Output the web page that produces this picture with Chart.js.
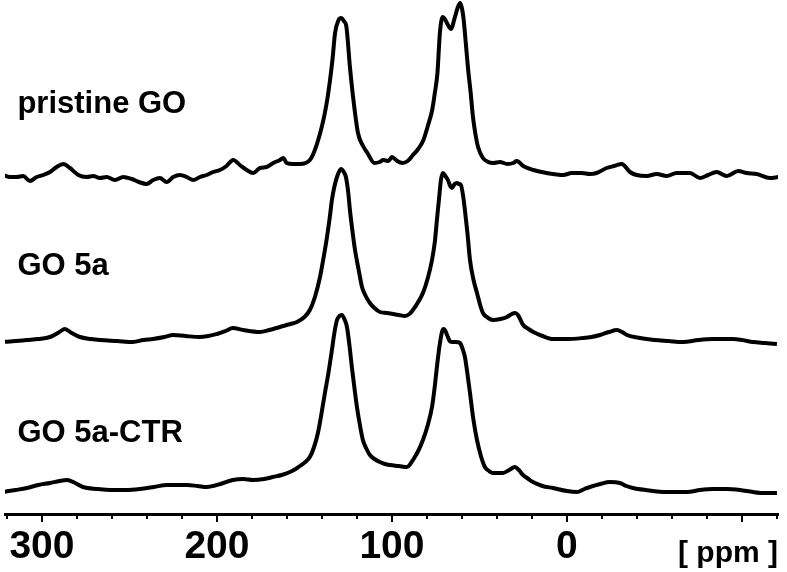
<!DOCTYPE html>
<html>
<head>
<meta charset="utf-8">
<script src="https://cdn.jsdelivr.net/npm/chart.js@4.4.1/dist/chart.umd.min.js"></script>
<style>
  html, body { margin: 0; padding: 0; background: #fff; }
  canvas { display: block; }
</style>
</head>
<body>
<canvas id="nmr" width="787" height="572"></canvas>
<script>
'use strict';

// chemical shift (ppm) and intensity (arb. units, above each trace's own baseline)
var pristinePpm = [322.1, 318.3, 314.5, 310.7, 306.9, 303, 299.2, 295.4, 291.6, 287.8, 284, 279.2, 274.5, 270.7, 266.9, 263, 258.3, 253.5, 248.7, 244.6, 240.2, 236.4, 232.6, 228.7, 225, 221.1, 217.3, 213.5, 209.7, 205.9, 202.1, 198.3, 194.5, 190.7, 186.9, 183, 179.2, 175.4, 171.6, 167.8, 164, 162.1, 160.2, 156.4, 152.6, 146.9, 141, 137, 134, 132.5, 130.5, 129, 127.5, 126, 124, 122, 119.4, 116.5, 114, 110, 107, 105, 102, 100, 97, 94, 91, 88, 85, 82, 79.5, 77, 75.5, 74, 72.6, 71, 69.7, 68.6, 66.3, 64, 62.5, 61, 59.8, 59, 57.8, 56.6, 55, 53.7, 52.2, 50.8, 48, 45, 42.1, 38.3, 34, 30.7, 28.7, 25, 19.2, 11.6, 2.1, -2.7, -8.4, -13.1, -17, -22.7, -27, -31.3, -36, -39.8, -45.5, -51.3, -57, -62.7, -70.3, -76, -80.7, -85.5, -91.3, -97.9, -102.7, -108.4, -116, -120.7];
var pristineInt = [3, 1, 1, 2, -3, 1, 3, 6, 11, 14, 10, 3, 1, 2, 0, 1, -2, 1, -1, -4, -6, -2, 0, -4, 1, 3, 1, -2, 1, 3, 6, 8, 12, 18, 13, 8, 5, 10, 11, 15, 18, 20, 15, 14, 14, 18, 45, 78, 118, 145, 158, 160, 157, 151, 111, 78, 45, 32, 25, 15, 16, 18, 17, 21, 17, 15, 17, 23, 29, 38, 52, 68, 85, 105, 145, 161, 159, 155, 149, 161, 170, 175, 168, 158, 135, 111, 85, 61, 43, 31, 20, 16, 15, 16, 14, 15, 17, 12, 8, 5, 3, 5, 5, 4, 5, 10, 12, 14, 6, 3, 2, 4, 2, 5, 5, 0, 3, 6, 2, 7, 5, 4, 0, 1];

var go5aPpm = [322.3, 315, 308.6, 302, 295.4, 290, 286.9, 283, 278.3, 272, 266.9, 257, 248, 242, 236.6, 230, 225, 218, 209.7, 200, 195, 190.9, 185, 175.4, 170, 164, 158, 154.3, 150, 146.9, 144, 141.1, 139, 137.1, 135.5, 134.3, 132.8, 131.4, 129.1, 127.5, 126.3, 125, 124, 122.5, 121.1, 119, 117.1, 115, 112.6, 110, 106.9, 103, 99.4, 96, 92.6, 90, 88, 85, 82.3, 79.5, 77.1, 75.5, 74.3, 73, 72, 70.9, 69.5, 68, 66.7, 65.7, 64.2, 62.9, 61.7, 60.6, 59.4, 58.3, 56.8, 55.4, 53.5, 51.4, 49.6, 48, 45, 42.3, 38, 34.3, 31.5, 29.7, 28, 26.5, 25, 22, 19.2, 14, 8, 0, -9.1, -14, -18.9, -24, -28.6, -31.5, -34.3, -41.7, -50, -58, -66.3, -75, -83.4, -94.9, -100, -106.3, -113, -120];
var go5aInt = [0, 1, 2, 3, 5, 10, 13, 9, 5, 3, 2, 1, 0, 2, 3, 5, 7, 6, 5, 8, 11, 14, 12, 10, 12, 15, 18, 20, 25, 32, 45, 65, 85, 105, 125, 142, 156, 165, 173, 170, 165, 150, 132, 110, 92, 72, 55, 46, 39, 34, 30, 29, 28, 27, 26, 28, 32, 40, 49, 64, 82, 100, 122, 145, 162, 169, 166, 162, 156, 154, 158, 159, 158, 157, 147, 132, 108, 82, 63, 49, 37, 29, 24, 22, 23, 25, 28, 29, 27, 22, 17, 13, 10, 6, 3, 3, 4, 5, 7, 10, 12, 10, 7, 4, 2, 1, 0, 2, 3, 3, 2, 0, -1, -2];

var ctrPpm = [322.3, 315, 308.6, 302, 295.4, 290, 285.7, 281, 276.6, 268, 261.1, 252, 244, 236, 228.6, 217.1, 211, 205.7, 198, 190.9, 185, 179.4, 173, 168, 163, 158.3, 155, 152.6, 149.5, 146.9, 144.5, 142.3, 140.3, 138.3, 136.2, 134.3, 132.8, 131.4, 130, 128.6, 127.2, 125.7, 124.3, 122.9, 121.5, 120, 118.3, 116.6, 114.5, 112.6, 110, 106.9, 104, 101.1, 96, 91.4, 89.5, 88, 85, 82.3, 79.5, 77.1, 75.7, 74.3, 72.9, 71.4, 70.5, 69.7, 68.5, 67, 65.7, 63.5, 61.1, 59.8, 58.3, 57, 55.4, 53.5, 51.4, 49, 46.9, 44.5, 42.3, 39, 36.6, 33, 29.7, 27.5, 25.1, 22, 19.4, 14, 8, 0, -5.7, -10, -13.1, -19, -24.6, -30.3, -34, -37.7, -45, -57.1, -68.6, -76, -83.4, -91, -98.9, -106.3, -113, -120];
var ctrInt = [0, 2, 4, 7, 9, 11, 12, 9, 5, 3, 2, 2, 3, 5, 7, 7, 6, 5, 8, 12, 13, 12, 13, 15, 17, 20, 23, 26, 30, 35, 45, 59, 78, 99, 120, 142, 160, 172, 176, 177, 173, 165, 147, 125, 105, 85, 67, 52, 43, 37, 33, 30, 28, 27, 26, 25, 28, 32, 41, 52, 67, 85, 103, 125, 145, 160, 163, 162, 157, 151, 150, 150, 149, 144, 135, 120, 99, 73, 52, 35, 25, 21, 19, 19, 19, 22, 25, 22, 17, 13, 10, 6, 4, 1, 0, 3, 5, 8, 10, 9, 6, 4, 2, 0, 0, 2, 3, 3, 2, 0, -1, -1];

var seriesNames = ['pristine GO', 'GO 5a', 'GO 5a-CTR'];
var seriesOffsets = [336, 172, 22];   // vertical stacking of the traces
var tickValues = [320, 300, 280, 260, 240, 220, 200, 180, 160, 140, 120, 100, 80, 60, 40, 20, 0, -20, -40, -60, -80, -100, -120];
var majorTicks = [300, 200, 100, 0, -100];
var labeledTicks = [300, 200, 100, 0];

function toPoints(ppm, inten, off) {
    return ppm.map(function(p, i) { return { x: p, y: inten[i] + off }; });
}

var traces = [
    toPoints(pristinePpm, pristineInt, seriesOffsets[0]),
    toPoints(go5aPpm, go5aInt, seriesOffsets[1]),
    toPoints(ctrPpm, ctrInt, seriesOffsets[2])
];

var decorations = {
    id: 'decorations',
    afterDraw: function(chart) {
        var ctx = chart.ctx;
        var xs = chart.scales.x;
        var ys = chart.scales.y;
        var base = chart.chartArea.bottom;
        ctx.save();
        // tick marks
        ctx.strokeStyle = '#000';
        ctx.lineWidth = 2;
        tickValues.forEach(function(v) {
            var px = Math.round(xs.getPixelForValue(v));
            var len = majorTicks.indexOf(v) >= 0 ? 8 : 5;
            ctx.beginPath();
            ctx.moveTo(px, base);
            ctx.lineTo(px, base + len);
            ctx.stroke();
        });
        // trace names
        ctx.fillStyle = '#000';
        ctx.textAlign = 'left';
        ctx.textBaseline = 'alphabetic';
        ctx.font = 'bold 31px "Liberation Sans", Arial, sans-serif';
        var nameY = [401, 239, 72];
        seriesNames.forEach(function(name, i) {
            ctx.fillText(name, xs.getPixelForValue(314), ys.getPixelForValue(nameY[i]));
        });
        // unit label
        ctx.font = 'bold 30px "Liberation Sans", Arial, sans-serif';
        ctx.textAlign = 'right';
        ctx.fillText('[ ppm ]', chart.chartArea.right, 562);
        ctx.restore();
    }
};

var ctx = document.getElementById('nmr').getContext('2d');
var nmrChart = new Chart(ctx, {
    type: 'line',
    data: {
        datasets: traces.map(function(pts, i) {
            return {
                label: seriesNames[i],
                data: pts,
                borderColor: '#000',
                borderWidth: 4,
                pointRadius: 0,
                fill: false,
                cubicInterpolationMode: 'monotone'
            };
        })
    },
    options: {
        responsive: false,
        animation: false,
        layout: { padding: { left: 5, right: 9, top: 0, bottom: 0 } },
        plugins: {
            legend: { display: false },
            tooltip: { enabled: false }
        },
        scales: {
            x: {
                type: 'linear',
                reverse: true,
                min: -120.6,
                max: 321.1,
                afterBuildTicks: function(scale) {
                    scale.ticks = tickValues.map(function(v) { return { value: v }; });
                },
                afterFit: function(scale) {
                    scale.height = 58;
                    scale.paddingLeft = 0;
                    scale.paddingRight = 0;
                },
                grid: { display: false, drawTicks: false },
                border: { display: true, color: '#000', width: 3 },
                ticks: {
                    autoSkip: false,
                    maxRotation: 0,
                    padding: 14,
                    color: '#000',
                    font: { family: '"Liberation Sans", Arial', weight: 'bold', size: 39, lineHeight: 1 },
                    callback: function(v) { return labeledTicks.indexOf(v) >= 0 ? String(v) : ''; }
                }
            },
            y: {
                type: 'linear',
                display: false,
                min: 0,
                max: 514
            }
        }
    },
    plugins: [decorations]
});
</script>
</body>
</html>
